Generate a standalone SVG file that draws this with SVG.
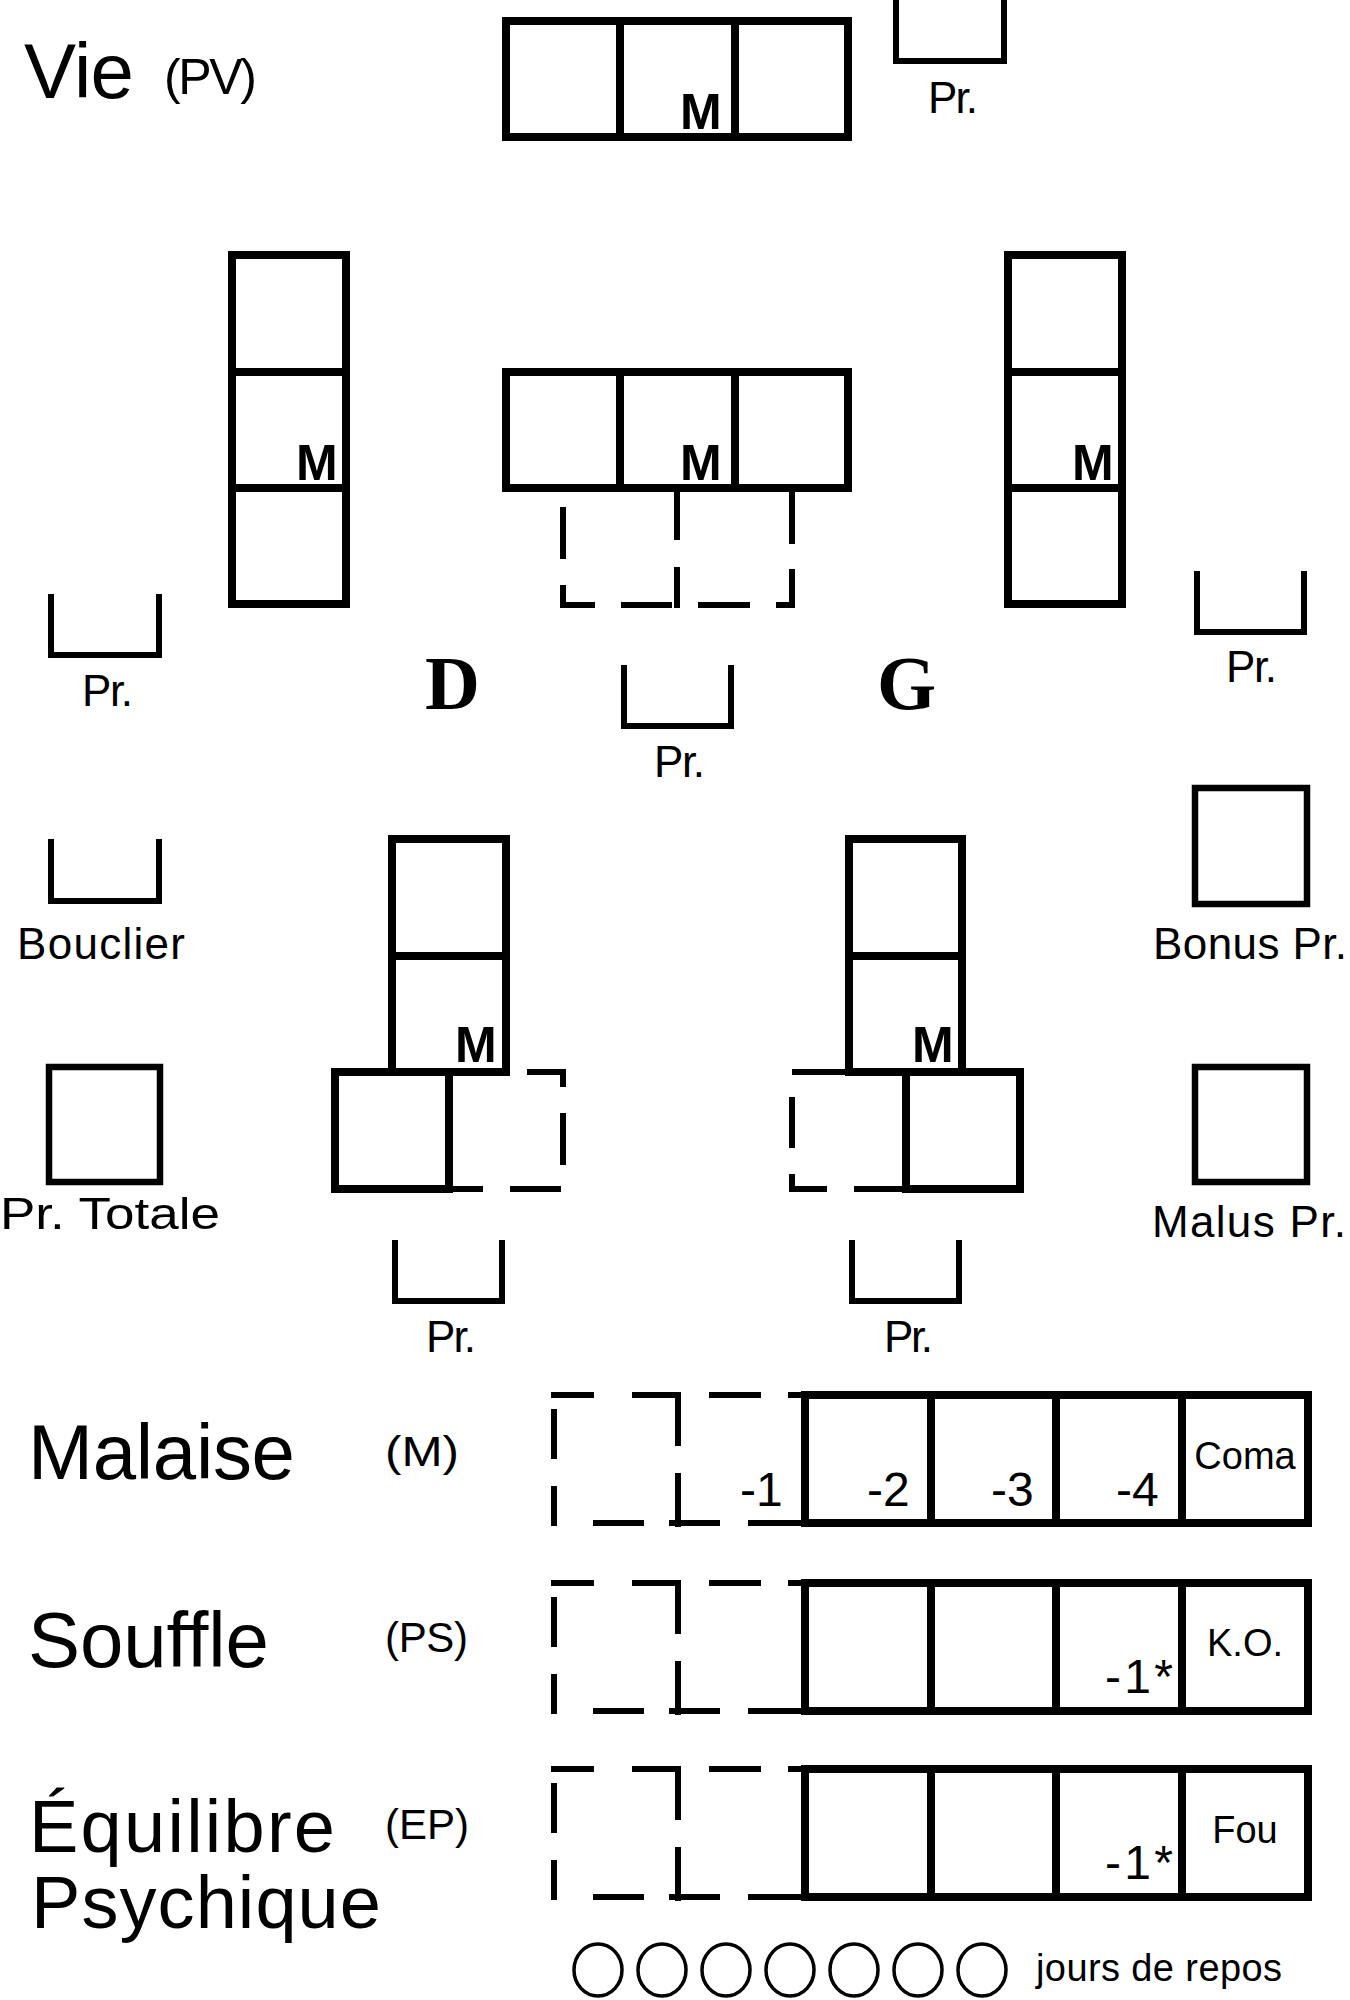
<svg xmlns="http://www.w3.org/2000/svg" xmlns:xlink="http://www.w3.org/1999/xlink" width="1350" height="2000" viewBox="0 0 1350 2000">
  <style>
    .box{fill:none;stroke:#000;stroke-width:8;stroke-linejoin:miter}
    .sq{fill:none;stroke:#000;stroke-width:6.5}
    .br{fill:none;stroke:#000;stroke-width:6;stroke-linejoin:miter}
    .ds{fill:none;stroke:#000;stroke-width:6;stroke-linejoin:miter;stroke-linecap:butt}
    .ring{fill:none;stroke:#000;stroke-width:3.5}
    text{font-family:"Liberation Sans",Arial,sans-serif;fill:#000}
    .big{font-size:78px}
    .big2{font-size:74px}
    .par{font-size:42px}
    .lab{font-size:44px}
    .m{font-size:50px;font-weight:bold}
    .num{font-size:48px}
    .st{font-size:38px}
    .mid{text-anchor:middle}
    .side{font-family:"Liberation Serif","Times New Roman",serif;font-size:76px;font-weight:bold}
  </style>
  <defs>
    <g id="row">
      <rect class="box" x="805" y="0" width="503" height="128"/>
      <path class="box" d="M931 0V128M1056 0V128M1182 0V128"/>
      <path class="ds" d="M551 0H594M632 0H678V51M709 0H761M788 0H805M554 14V64M554 91V128H557M678 78V132M593 128H644M669 128H720M748 128H805"/>
    </g>
  </defs>

  <g id="vie">
    <text class="big" x="24" y="98" textLength="110">Vie</text>
    <text x="164" y="94" style="font-size:50px" textLength="93">(PV)</text>
    <rect class="box" x="506" y="21" width="342" height="116"/>
    <path class="box" d="M620 21V137M735 21V137"/>
    <text class="m" x="680" y="129">M</text>
  </g>

  <g id="pr-top">
    <path class="br" d="M896 -5V61H1004V-5"/>
    <text class="lab" x="928" y="113" textLength="50">Pr.</text>
  </g>

  <g id="stack-left">
    <rect class="box" x="232" y="255" width="114" height="349"/>
    <path class="box" d="M232 372H346M232 488H346"/>
    <text class="m" x="296" y="480">M</text>
  </g>

  <g id="stack-mid">
    <rect class="box" x="506" y="372" width="342" height="116"/>
    <path class="box" d="M620 372V488M735 372V488"/>
    <text class="m" x="680" y="480">M</text>
    <path class="ds" d="M563 507V559M563 585V605H595M621 605H672M698 605H750M776 605H792V569M792 488V544M677 488V540M677 567V608"/>
  </g>

  <g id="stack-right">
    <rect class="box" x="1008" y="255" width="114" height="349"/>
    <path class="box" d="M1008 372H1122M1008 488H1122"/>
    <text class="m" x="1072" y="480">M</text>
  </g>

  <g id="pr-left">
    <path class="br" d="M51 594V655H159V594"/>
    <text class="lab" x="82" y="706" textLength="51">Pr.</text>
  </g>

  <g id="pr-right">
    <path class="br" d="M1197 571V632H1304V571"/>
    <text class="lab" x="1226" y="682" textLength="51">Pr.</text>
  </g>

  <g id="pr-mid">
    <path class="br" d="M624 665V726H731V665"/>
    <text class="lab" x="654" y="777" textLength="51">Pr.</text>
  </g>

  <g id="labels-dg">
    <text class="side" x="425" y="709">D</text>
    <text class="side" x="877" y="709">G</text>
  </g>

  <g id="bouclier">
    <path class="br" d="M51 839V901H159V839"/>
    <text class="lab" x="17" y="959" textLength="168">Bouclier</text>
  </g>

  <g id="bonus">
    <rect class="sq" x="1195" y="788" width="112" height="116"/>
    <text class="lab" x="1153" y="959" textLength="194">Bonus Pr.</text>
  </g>

  <g id="totale">
    <rect class="sq" x="49" y="1067" width="111" height="115"/>
    <text class="lab" x="0" y="1229" textLength="220" lengthAdjust="spacingAndGlyphs">Pr. Totale</text>
  </g>

  <g id="malus">
    <rect class="sq" x="1195" y="1067" width="112" height="115"/>
    <text class="lab" x="1152" y="1237" textLength="194">Malus Pr.</text>
  </g>

  <g id="leg-d">
    <rect class="box" x="392" y="839" width="114" height="233"/>
    <path class="box" d="M392 956H506"/>
    <rect class="box" x="335" y="1072" width="114" height="117"/>
    <text class="m" x="455" y="1062">M</text>
    <path class="ds" d="M527 1072H563V1087M563 1113V1165M561 1189H510M483 1189H453"/>
    <path class="br" d="M395 1240V1301H502V1240"/>
    <text class="lab" x="426" y="1352" textLength="50">Pr.</text>
  </g>

  <g id="leg-g">
    <rect class="box" x="849" y="839" width="113" height="233"/>
    <path class="box" d="M849 956H962"/>
    <rect class="box" x="906" y="1072" width="114" height="117"/>
    <text class="m" x="912" y="1062">M</text>
    <path class="ds" d="M792 1072H849M792 1097V1148M792 1174V1189H827M854 1189H906"/>
    <path class="br" d="M852 1240V1301H959V1240"/>
    <text class="lab" x="884" y="1352" textLength="49">Pr.</text>
  </g>

  <g id="malaise">
    <use xlink:href="#row" href="#row" transform="translate(0,1395)"/>
    <text class="big" x="28" y="1479" textLength="267">Malaise</text>
    <text class="par" x="385" y="1466" textLength="74" lengthAdjust="spacingAndGlyphs">(M)</text>
    <text class="num" x="740" y="1506">-1</text>
    <text class="num" x="867" y="1506">-2</text>
    <text class="num" x="991" y="1506">-3</text>
    <text class="num" x="1116" y="1506">-4</text>
    <text class="st mid" x="1245" y="1469">Coma</text>
  </g>

  <g id="souffle">
    <use xlink:href="#row" href="#row" transform="translate(0,1583)"/>
    <text class="big" x="28" y="1667" textLength="241">Souffle</text>
    <text class="par" x="385" y="1652" textLength="83">(PS)</text>
    <text class="num" x="1105" y="1693" textLength="68">-1*</text>
    <text class="st mid" x="1245" y="1656">K.O.</text>
  </g>

  <g id="equilibre">
    <use xlink:href="#row" href="#row" transform="translate(0,1769)"/>
    <text class="big2" x="29" y="1852" textLength="306">Équilibre</text>
    <text class="big2" x="31" y="1928" textLength="350">Psychique</text>
    <text class="par" x="385" y="1839" textLength="84">(EP)</text>
    <text class="num" x="1105" y="1879" textLength="68">-1*</text>
    <text class="st mid" x="1245" y="1843">Fou</text>
  </g>

  <g id="repos">
    <ellipse class="ring" cx="598" cy="1970" rx="24" ry="26"/>
    <ellipse class="ring" cx="662" cy="1970" rx="24" ry="26"/>
    <ellipse class="ring" cx="726" cy="1970" rx="24" ry="26"/>
    <ellipse class="ring" cx="790" cy="1970" rx="24" ry="26"/>
    <ellipse class="ring" cx="854" cy="1970" rx="24" ry="26"/>
    <ellipse class="ring" cx="918" cy="1970" rx="24" ry="26"/>
    <ellipse class="ring" cx="982" cy="1970" rx="24" ry="26"/>
    <text class="st" x="1036" y="1981" textLength="246">jours de repos</text>
  </g>
</svg>
